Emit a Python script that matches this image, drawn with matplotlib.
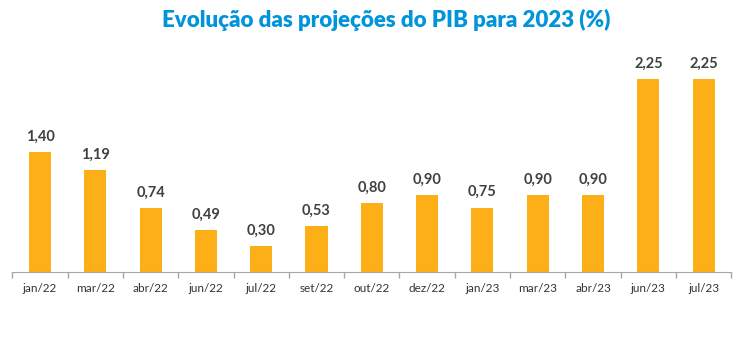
import numpy as np
import matplotlib.pyplot as plt

# dados
meses = ['jan/22', 'mar/22', 'abr/22', 'jun/22', 'jul/22', 'set/22', 'out/22',
         'dez/22', 'jan/23', 'mar/23', 'abr/23', 'jun/23', 'jul/23']
projecao = [1.40, 1.19, 0.74, 0.49, 0.30, 0.53, 0.80, 0.90, 0.75, 0.90, 0.90, 2.25, 2.25]

plt.rcParams['font.family'] = ['Lato', 'DejaVu Sans']

fig = plt.figure(figsize=(7.45, 3.56), dpi=100)
ax = fig.add_axes([12.3 / 745, (356 - 271.7) / 356, 719 / 745, 211.7 / 356])

x = np.arange(len(meses))
barras = ax.bar(x, projecao, width=0.40, color='#FCAF17')

for b, v in zip(barras, projecao):
    ax.annotate(f'{v:.2f}'.replace('.', ','), (b.get_x() + b.get_width() / 2, v),
                xytext=(0, 6), textcoords='offset points', ha='center', va='bottom',
                fontsize=10.5, fontweight='bold', color='#404040')

ax.set_xlim(-0.5, len(meses) - 0.5)
ax.set_ylim(0, 211.7 / 85.5)
ax.set_xticks(x)
ax.set_xticklabels(meses, fontsize=8.5, color='#333333')
ax.set_xticks(np.arange(-0.5, len(meses)), minor=True)
ax.tick_params(axis='x', which='major', length=0, pad=8)
ax.tick_params(axis='x', which='minor', length=4, color='#A6A6A6', width=1)
ax.set_yticks([])
for lado in ['top', 'right', 'left']:
    ax.spines[lado].set_visible(False)
ax.spines['bottom'].set_color('#A6A6A6')

fig.text(386 / 745, 1 - 20 / 356, 'Evolução das projeções do PIB para 2023 (%)',
         ha='center', va='center', fontsize=16, fontweight='heavy', color='#0095DA')

fig.savefig('out.png', dpi=100)
